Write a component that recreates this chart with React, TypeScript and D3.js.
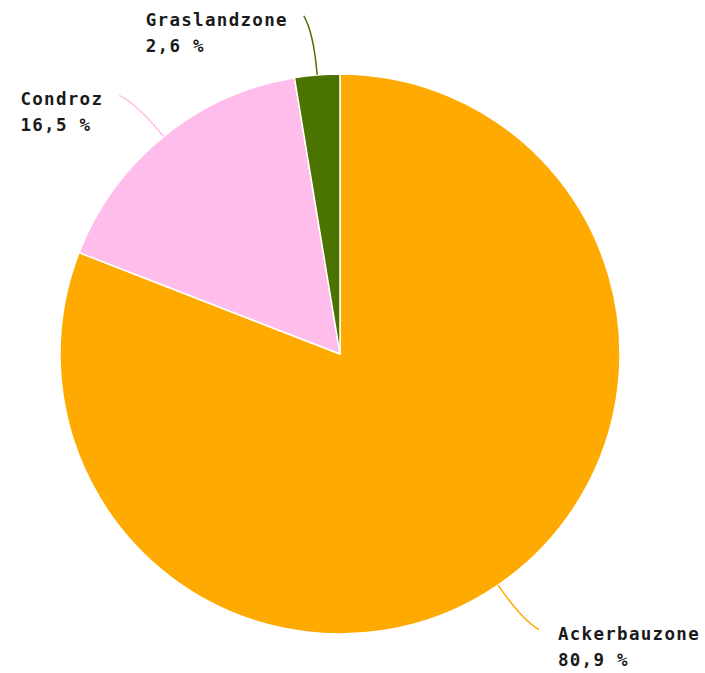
import React from "react";
import * as d3 from "d3";

const categories = ["Ackerbauzone", "Condroz", "Graslandzone"];
const values = [80.9, 16.5, 2.6];
const valueLabels = ["80,9 %", "16,5 %", "2,6 %"];
const colors = ["#FFAA00", "#FFBDEB", "#4B7300"];

const W = 705;
const H = 673;
const cx = 340;
const cy = 354;
const R = 280;
const FS = 17.5;
const LS = 1.3;
const CHAR_W = FS * 0.602 + LS;

export default function App() {
  const data = categories.map((c, i) => ({ name: c, value: values[i], label: valueLabels[i], color: colors[i] }));
  const pie = d3.pie<any>().value((d) => d.value).sort(null);
  const arcs = pie(data);
  const arc = d3.arc<any>().innerRadius(0).outerRadius(R);

  const polar = (r: number, a: number) => [Math.sin(a) * r, -Math.cos(a) * r];

  return (
    <svg width={W} height={H} style={{ position: "absolute", left: 0, top: 0, background: "#fff" }}>
      <g transform={`translate(${cx},${cy})`}>
        {arcs.map((a, i) => (
          <path key={i} d={arc(a) as string} fill={a.data.color} stroke="#fff" strokeWidth={1.5} strokeLinejoin="round" />
        ))}
        {arcs.map((a, i) => {
          const mid = (a.startAngle + a.endAngle) / 2;
          const [sx, sy] = polar(R, mid);
          const [qx, qy] = polar(R + 42, mid);
          const [ex, ey] = polar(340, mid - 0.025);
          const right = Math.sin(mid) > 0;
          const textW = a.data.name.length * CHAR_W;
          const tx = right ? ex + 19 : ex - 16 - textW;
          return (
            <g key={"l" + i}>
              <path d={`M${sx},${sy}Q${qx},${qy} ${ex},${ey}`} fill="none" stroke={a.data.color} strokeWidth={1.5} />
              <text
                x={tx}
                y={ey + 10}
                textAnchor="start"
                fontFamily="'DejaVu Sans Mono', monospace"
                fontWeight="bold"
                fontSize={FS}
                letterSpacing={LS}
                fill="#1a1a1a"
              >
                <tspan x={tx} dy={0}>{a.data.name}</tspan>
                <tspan x={tx} dy={26}>{a.data.label}</tspan>
              </text>
            </g>
          );
        })}
      </g>
    </svg>
  );
}
